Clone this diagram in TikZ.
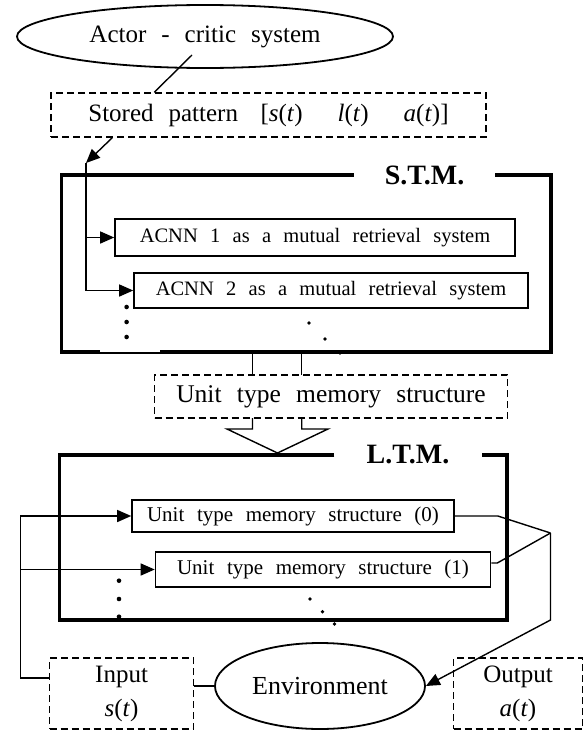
\documentclass[tikz,border=0pt]{standalone}
\usepackage{fontspec}
\setmainfont{Liberation Serif}
\usetikzlibrary{shapes.geometric,arrows.meta}

\newcommand{\fsz}[2]{\fontsize{#1}{#2}\selectfont\spaceskip=0.6em\relax}

\tikzstyle{solidbox}=[draw,rectangle,line width=1.6pt,inner sep=0pt]
\tikzstyle{dashbox}=[draw,rectangle,line width=1.4pt,dash pattern=on 7pt off 4pt,inner sep=0pt]
\tikzstyle{oval}=[draw,ellipse,line width=1.8pt,inner sep=0pt]
\tikzstyle{frame}=[draw,line width=3.5pt]
\tikzstyle{tag}=[inner sep=0pt,font={\fsz{28}{30}\bfseries}]
\tikzstyle{link}=[draw,line width=1.4pt]
\tikzstyle{arrow}=[link,-{Triangle[length=14pt,width=12pt]}]

\begin{document}
\begin{tikzpicture}[x=1pt,y=-1pt]
\useasboundingbox (0,0) rectangle (584,731);
% ovals and dashed boxes
\node[oval,minimum width=376pt,minimum height=63pt,font=\fsz{25}{28}] (actor) at (205,36.5) {Actor - critic system};
\node[dashbox,minimum width=435pt,minimum height=44pt,font=\fsz{25}{28}] (stored) at (268.5,115) {Stored pattern\hspace{0.9em}[\textit{s}(\textit{t})\hspace{1.4em}\textit{l}(\textit{t})\hspace{1.4em}\textit{a}(\textit{t})]};
\node[dashbox,minimum width=353pt,minimum height=43pt,font=\fsz{25.5}{28}] (unitmem) at (331,396.5) {Unit type memory structure};
\node[dashbox,minimum width=144pt,minimum height=71pt,align=center,font=\fsz{25}{34}] (input) at (121.6,693.5) {Input\\\textit{s}(\textit{t})};
\node[dashbox,minimum width=129pt,minimum height=71pt,align=center,font=\fsz{25}{34}] (output) at (518,693.5) {Output\\\textit{a}(\textit{t})};
\node[oval,minimum width=210pt,minimum height=86pt,font=\fsz{26}{28}] (env) at (320,686) {Environment};
% solid boxes
\foreach \pos/\name/\bw/\bh/\fsize/\lbl in {{(315,237.5)/acnn1/400/37/20.5/ACNN 1 as a mutual retrieval system}, {(331,290.5)/acnn2/394/35/20.5/ACNN 2 as a mutual retrieval system}, {(293,516)/unit0/322/32/21/Unit type memory structure (0)}, {(323,569.5)/unit1/335/35/21/Unit type memory structure (1)}}
\node[solidbox,minimum width=\bw pt,minimum height=\bh pt,font=\fsz{\fsize}{\fsize}] (\name) at \pos {\lbl};
% memory frames
\node[tag,minimum width=141pt] (stmlabel) at (424.6,175) {S.T.M.};
\node[tag,minimum width=147pt] (ltmlabel) at (408,455) {L.T.M.};
\coordinate (stmsw) at (61.5,352);
\coordinate (stmne) at (551,175);
\coordinate (ltmsw) at (59.6,620);
\coordinate (ltmne) at (507,455);
\draw[frame] (stmlabel.west) -| (stmsw) -| (stmne) -- (stmlabel.east);
\draw[white,line width=1.8pt] (100,351) -- (160,351);
\draw[frame] (ltmlabel.west) -| (ltmsw) -| (ltmne) -- (ltmlabel.east);
% block arrow from S.T.M. to L.T.M.
\coordinate (tip) at (277.5,453);
\draw[link] (252.5,352) -- (252.5,375) (301.7,352) -- (301.7,375);
\draw[link] (252.5,418) -- (252.5,429) -- (227,429) -- (tip) -- (328,429) -- (301.7,429) -- (301.7,418);
% connectors
\coordinate (split) at (86,163);
\coordinate (fbl) at (20.5,569.5);
\coordinate (merge) at (550.5,533);
\coordinate (turn) at (550.5,620);
\draw[link] ([xshift=-13pt,yshift=-18.5pt]actor.center) -- ([xshift=104pt]stored.north west);
\draw[arrow] ([xshift=62pt]stored.south west) -- (split);
\draw[arrow] (split) |- (acnn2.west);
\draw[arrow] (split |- acnn1.west) -- (acnn1.west);
\draw[arrow] ([yshift=15.5pt]input.west) -| (fbl) |- (unit0.west);
\draw[arrow] (fbl) -- (unit1.west);
\draw[link] (unit0.east) -- ++(43,0) -- (merge);
\draw[link] ([yshift=6.5pt]unit1.east) -- ++(6,0) -- (merge);
\draw[arrow] (merge) -- (turn) -- (env.east);
\draw[link] (input.east |- env.west) -- (env.west);
% dots
\foreach \pos in {(126.6,307),(126.6,322),(126.6,337),(119,580.7),(119,599),(119,616.7)}
\fill \pos circle (2.3pt);
\foreach \pos in {(309,323),(325,339),(340,353),(310,599),(322.5,611.7),(334.5,624)}
\fill \pos circle (1.8pt);
\end{tikzpicture}
\end{document}
